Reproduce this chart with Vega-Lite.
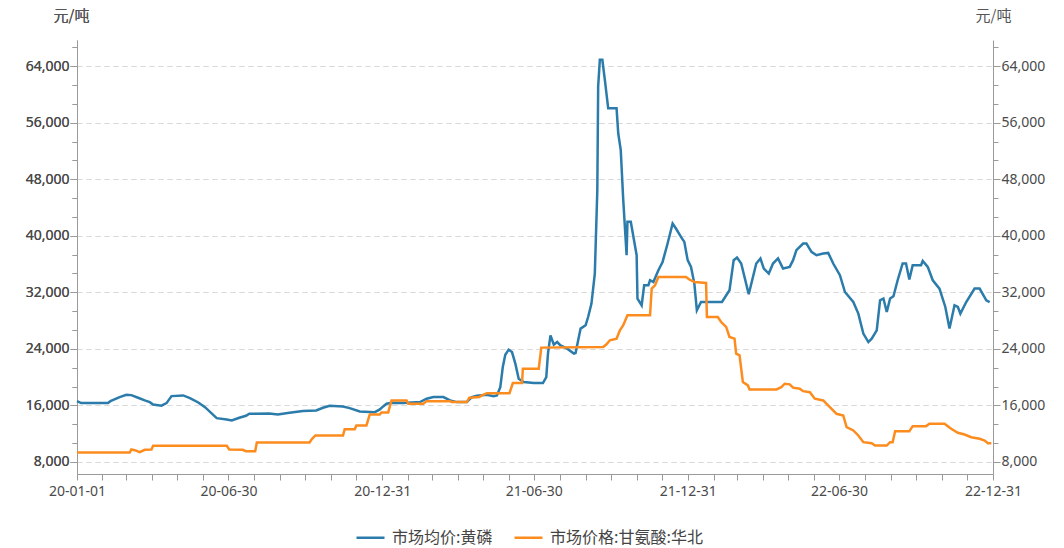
{
  "$schema": "https://vega.github.io/schema/vega-lite/v6.json",
  "width": 916,
  "height": 434,
  "autosize": {"type": "none"},
  "padding": {"left": 77, "top": 40, "right": 71, "bottom": 74},
  "background": "#ffffff",
  "datasets": {
    "blue": [
      {"date": "2020-01-01T00:00", "price": 16600},
      {"date": "2020-01-06T00:00", "price": 16330},
      {"date": "2020-02-07T00:00", "price": 16330},
      {"date": "2020-02-10T00:00", "price": 16600},
      {"date": "2020-02-21T00:00", "price": 17180},
      {"date": "2020-02-29T00:00", "price": 17500},
      {"date": "2020-03-06T00:00", "price": 17460},
      {"date": "2020-03-14T00:00", "price": 17090},
      {"date": "2020-03-22T00:00", "price": 16710},
      {"date": "2020-03-28T00:00", "price": 16470},
      {"date": "2020-04-01T00:00", "price": 16140},
      {"date": "2020-04-11T00:00", "price": 15960},
      {"date": "2020-04-17T00:00", "price": 16330},
      {"date": "2020-04-23T00:00", "price": 17320},
      {"date": "2020-05-07T00:00", "price": 17420},
      {"date": "2020-05-15T00:00", "price": 17030},
      {"date": "2020-05-25T00:00", "price": 16420},
      {"date": "2020-06-02T00:00", "price": 15760},
      {"date": "2020-06-16T00:00", "price": 14200},
      {"date": "2020-06-28T00:00", "price": 14020},
      {"date": "2020-07-04T00:00", "price": 13870},
      {"date": "2020-07-13T00:00", "price": 14260},
      {"date": "2020-07-21T00:00", "price": 14540},
      {"date": "2020-07-25T00:00", "price": 14820},
      {"date": "2020-08-18T00:00", "price": 14870},
      {"date": "2020-08-28T00:00", "price": 14720},
      {"date": "2020-09-11T00:00", "price": 14970},
      {"date": "2020-09-27T00:00", "price": 15200},
      {"date": "2020-10-13T00:00", "price": 15290},
      {"date": "2020-10-21T00:00", "price": 15670},
      {"date": "2020-10-29T00:00", "price": 15960},
      {"date": "2020-11-14T00:00", "price": 15860},
      {"date": "2020-11-22T00:00", "price": 15620},
      {"date": "2020-12-04T00:00", "price": 15150},
      {"date": "2020-12-22T00:00", "price": 15050},
      {"date": "2020-12-28T00:00", "price": 15430},
      {"date": "2021-01-01T00:00", "price": 15860},
      {"date": "2021-01-05T00:00", "price": 16240},
      {"date": "2021-01-11T00:00", "price": 16380},
      {"date": "2021-01-25T00:00", "price": 16330},
      {"date": "2021-02-14T00:00", "price": 16470},
      {"date": "2021-02-22T00:00", "price": 16950},
      {"date": "2021-03-02T00:00", "price": 17180},
      {"date": "2021-03-14T00:00", "price": 17180},
      {"date": "2021-03-22T00:00", "price": 16710},
      {"date": "2021-03-30T00:00", "price": 16470},
      {"date": "2021-04-11T00:00", "price": 16470},
      {"date": "2021-04-17T00:00", "price": 17180},
      {"date": "2021-04-23T00:00", "price": 17370},
      {"date": "2021-05-05T00:00", "price": 17520},
      {"date": "2021-05-13T00:00", "price": 17320},
      {"date": "2021-05-17T00:00", "price": 17420},
      {"date": "2021-05-21T00:00", "price": 18590},
      {"date": "2021-05-24T00:00", "price": 21430},
      {"date": "2021-05-27T00:00", "price": 23180},
      {"date": "2021-05-31T00:00", "price": 23890},
      {"date": "2021-06-04T00:00", "price": 23550},
      {"date": "2021-06-08T00:00", "price": 21910},
      {"date": "2021-06-12T00:00", "price": 19780},
      {"date": "2021-06-18T00:00", "price": 19300},
      {"date": "2021-06-30T00:00", "price": 19160},
      {"date": "2021-07-11T00:00", "price": 19160},
      {"date": "2021-07-15T00:00", "price": 20010},
      {"date": "2021-07-17T00:00", "price": 23330},
      {"date": "2021-07-20T00:00", "price": 25920},
      {"date": "2021-07-24T00:00", "price": 24600},
      {"date": "2021-07-28T00:00", "price": 24970},
      {"date": "2021-08-01T00:00", "price": 24500},
      {"date": "2021-08-09T00:00", "price": 24030},
      {"date": "2021-08-17T00:00", "price": 23330},
      {"date": "2021-08-19T00:00", "price": 23410},
      {"date": "2021-08-25T00:00", "price": 26870},
      {"date": "2021-08-31T00:00", "price": 27340},
      {"date": "2021-09-03T00:00", "price": 28510},
      {"date": "2021-09-07T00:00", "price": 30410},
      {"date": "2021-09-11T00:00", "price": 34660},
      {"date": "2021-09-14T00:00", "price": 46480},
      {"date": "2021-09-15T00:00", "price": 61110},
      {"date": "2021-09-17T00:00", "price": 64890},
      {"date": "2021-09-20T00:00", "price": 64890},
      {"date": "2021-09-23T00:00", "price": 62050},
      {"date": "2021-09-27T00:00", "price": 58040},
      {"date": "2021-10-07T00:00", "price": 58040},
      {"date": "2021-10-09T00:00", "price": 54500},
      {"date": "2021-10-12T00:00", "price": 52130},
      {"date": "2021-10-15T00:00", "price": 45050},
      {"date": "2021-10-19T00:00", "price": 37250},
      {"date": "2021-10-20T00:00", "price": 41970},
      {"date": "2021-10-24T00:00", "price": 41970},
      {"date": "2021-10-31T00:00", "price": 37250},
      {"date": "2021-11-01T00:00", "price": 31110},
      {"date": "2021-11-06T00:00", "price": 30170},
      {"date": "2021-11-09T00:00", "price": 33000},
      {"date": "2021-11-14T00:00", "price": 33000},
      {"date": "2021-11-16T00:00", "price": 33710},
      {"date": "2021-11-20T00:00", "price": 33470},
      {"date": "2021-11-26T00:00", "price": 35130},
      {"date": "2021-12-01T00:00", "price": 36300},
      {"date": "2021-12-07T00:00", "price": 38910},
      {"date": "2021-12-13T00:00", "price": 41740},
      {"date": "2021-12-17T00:00", "price": 41030},
      {"date": "2021-12-23T00:00", "price": 39850},
      {"date": "2021-12-27T00:00", "price": 39140},
      {"date": "2021-12-31T00:00", "price": 36550},
      {"date": "2022-01-04T00:00", "price": 35600},
      {"date": "2022-01-08T00:00", "price": 33240},
      {"date": "2022-01-11T00:00", "price": 29460},
      {"date": "2022-01-16T00:00", "price": 30630},
      {"date": "2022-02-10T00:00", "price": 30630},
      {"date": "2022-02-19T00:00", "price": 32290},
      {"date": "2022-02-24T00:00", "price": 36550},
      {"date": "2022-02-28T00:00", "price": 36930},
      {"date": "2022-03-05T00:00", "price": 36080},
      {"date": "2022-03-14T00:00", "price": 31730},
      {"date": "2022-03-23T00:00", "price": 36080},
      {"date": "2022-03-28T00:00", "price": 36790},
      {"date": "2022-04-01T00:00", "price": 35370},
      {"date": "2022-04-07T00:00", "price": 34660},
      {"date": "2022-04-12T00:00", "price": 36080},
      {"date": "2022-04-18T00:00", "price": 36790},
      {"date": "2022-04-24T00:00", "price": 35370},
      {"date": "2022-05-02T00:00", "price": 35600},
      {"date": "2022-05-06T00:00", "price": 36550},
      {"date": "2022-05-10T00:00", "price": 37960},
      {"date": "2022-05-18T00:00", "price": 38910},
      {"date": "2022-05-22T00:00", "price": 38910},
      {"date": "2022-05-28T00:00", "price": 37720},
      {"date": "2022-06-03T00:00", "price": 37250},
      {"date": "2022-06-11T00:00", "price": 37490},
      {"date": "2022-06-17T00:00", "price": 37580},
      {"date": "2022-06-23T00:00", "price": 36080},
      {"date": "2022-07-01T00:00", "price": 34420},
      {"date": "2022-07-07T00:00", "price": 32050},
      {"date": "2022-07-17T00:00", "price": 30630},
      {"date": "2022-07-23T00:00", "price": 28990},
      {"date": "2022-07-29T00:00", "price": 26160},
      {"date": "2022-08-04T00:00", "price": 24970},
      {"date": "2022-08-08T00:00", "price": 25450},
      {"date": "2022-08-14T00:00", "price": 26630},
      {"date": "2022-08-18T00:00", "price": 30880},
      {"date": "2022-08-22T00:00", "price": 31120},
      {"date": "2022-08-26T00:00", "price": 29220},
      {"date": "2022-08-30T00:00", "price": 31120},
      {"date": "2022-09-03T00:00", "price": 31450},
      {"date": "2022-09-08T00:00", "price": 33710},
      {"date": "2022-09-14T00:00", "price": 36080},
      {"date": "2022-09-18T00:00", "price": 36080},
      {"date": "2022-09-22T00:00", "price": 33810},
      {"date": "2022-09-26T00:00", "price": 35840},
      {"date": "2022-10-06T00:00", "price": 35840},
      {"date": "2022-10-08T00:00", "price": 36440},
      {"date": "2022-10-14T00:00", "price": 35600},
      {"date": "2022-10-20T00:00", "price": 33710},
      {"date": "2022-10-28T00:00", "price": 32530},
      {"date": "2022-11-04T00:00", "price": 29930},
      {"date": "2022-11-09T00:00", "price": 26870},
      {"date": "2022-11-15T00:00", "price": 30170},
      {"date": "2022-11-19T00:00", "price": 29930},
      {"date": "2022-11-22T00:00", "price": 28990},
      {"date": "2022-11-29T00:00", "price": 30630},
      {"date": "2022-12-09T00:00", "price": 32530},
      {"date": "2022-12-15T00:00", "price": 32530},
      {"date": "2022-12-23T00:00", "price": 30880},
      {"date": "2022-12-27T00:00", "price": 30630}
    ],
    "orange": [
      {"date": "2020-01-01T00:00", "price": 9340},
      {"date": "2020-03-04T00:00", "price": 9340},
      {"date": "2020-03-06T00:00", "price": 9770},
      {"date": "2020-03-10T00:00", "price": 9670},
      {"date": "2020-03-16T00:00", "price": 9390},
      {"date": "2020-03-22T00:00", "price": 9720},
      {"date": "2020-03-30T00:00", "price": 9770},
      {"date": "2020-04-01T00:00", "price": 10290},
      {"date": "2020-06-28T00:00", "price": 10290},
      {"date": "2020-07-01T00:00", "price": 9770},
      {"date": "2020-07-17T00:00", "price": 9720},
      {"date": "2020-07-21T00:00", "price": 9530},
      {"date": "2020-08-01T00:00", "price": 9530},
      {"date": "2020-08-03T00:00", "price": 10760},
      {"date": "2020-10-05T00:00", "price": 10760},
      {"date": "2020-10-08T00:00", "price": 11280},
      {"date": "2020-10-12T00:00", "price": 11750},
      {"date": "2020-11-14T00:00", "price": 11750},
      {"date": "2020-11-16T00:00", "price": 12640},
      {"date": "2020-11-28T00:00", "price": 12640},
      {"date": "2020-11-30T00:00", "price": 13170},
      {"date": "2020-12-12T00:00", "price": 13170},
      {"date": "2020-12-16T00:00", "price": 14730},
      {"date": "2020-12-28T00:00", "price": 14730},
      {"date": "2020-12-30T00:00", "price": 15010},
      {"date": "2021-01-07T00:00", "price": 15010},
      {"date": "2021-01-11T00:00", "price": 16710},
      {"date": "2021-01-29T00:00", "price": 16710},
      {"date": "2021-01-31T00:00", "price": 16240},
      {"date": "2021-02-18T00:00", "price": 16240},
      {"date": "2021-02-22T00:00", "price": 16610},
      {"date": "2021-03-22T00:00", "price": 16610},
      {"date": "2021-03-24T00:00", "price": 16470},
      {"date": "2021-04-11T00:00", "price": 16470},
      {"date": "2021-04-14T00:00", "price": 17090},
      {"date": "2021-04-26T00:00", "price": 17180},
      {"date": "2021-04-28T00:00", "price": 17370},
      {"date": "2021-05-05T00:00", "price": 17740},
      {"date": "2021-06-01T00:00", "price": 17740},
      {"date": "2021-06-05T00:00", "price": 19160},
      {"date": "2021-06-16T00:00", "price": 19160},
      {"date": "2021-06-17T00:00", "price": 21200},
      {"date": "2021-07-06T00:00", "price": 21200},
      {"date": "2021-07-09T00:00", "price": 24180},
      {"date": "2021-09-21T00:00", "price": 24270},
      {"date": "2021-09-25T00:00", "price": 24650},
      {"date": "2021-09-29T00:00", "price": 25220},
      {"date": "2021-10-07T00:00", "price": 25450},
      {"date": "2021-10-11T00:00", "price": 26630},
      {"date": "2021-10-15T00:00", "price": 27340},
      {"date": "2021-10-20T00:00", "price": 28760},
      {"date": "2021-11-16T00:00", "price": 28760},
      {"date": "2021-11-18T00:00", "price": 32530},
      {"date": "2021-11-22T00:00", "price": 33000},
      {"date": "2021-11-26T00:00", "price": 34180},
      {"date": "2021-12-29T00:00", "price": 34180},
      {"date": "2022-01-02T00:00", "price": 33810},
      {"date": "2022-01-08T00:00", "price": 33470},
      {"date": "2022-01-22T00:00", "price": 33330},
      {"date": "2022-01-23T00:00", "price": 28510},
      {"date": "2022-02-05T00:00", "price": 28510},
      {"date": "2022-02-09T00:00", "price": 27800},
      {"date": "2022-02-15T00:00", "price": 27100},
      {"date": "2022-02-19T00:00", "price": 25690},
      {"date": "2022-02-25T00:00", "price": 25450},
      {"date": "2022-02-27T00:00", "price": 23330},
      {"date": "2022-03-03T00:00", "price": 23090},
      {"date": "2022-03-07T00:00", "price": 19300},
      {"date": "2022-03-13T00:00", "price": 18830},
      {"date": "2022-03-15T00:00", "price": 18270},
      {"date": "2022-04-16T00:00", "price": 18270},
      {"date": "2022-04-22T00:00", "price": 18590},
      {"date": "2022-04-26T00:00", "price": 19070},
      {"date": "2022-05-02T00:00", "price": 18980},
      {"date": "2022-05-06T00:00", "price": 18510},
      {"date": "2022-05-14T00:00", "price": 18360},
      {"date": "2022-05-18T00:00", "price": 18020},
      {"date": "2022-05-26T00:00", "price": 17880},
      {"date": "2022-06-01T00:00", "price": 16950},
      {"date": "2022-06-11T00:00", "price": 16710},
      {"date": "2022-06-19T00:00", "price": 15760},
      {"date": "2022-06-27T00:00", "price": 14820},
      {"date": "2022-07-05T00:00", "price": 14580},
      {"date": "2022-07-09T00:00", "price": 12930},
      {"date": "2022-07-17T00:00", "price": 12460},
      {"date": "2022-07-23T00:00", "price": 11750},
      {"date": "2022-07-29T00:00", "price": 10800},
      {"date": "2022-08-08T00:00", "price": 10660},
      {"date": "2022-08-12T00:00", "price": 10330},
      {"date": "2022-08-26T00:00", "price": 10330},
      {"date": "2022-08-30T00:00", "price": 10800},
      {"date": "2022-09-02T00:00", "price": 10800},
      {"date": "2022-09-05T00:00", "price": 12360},
      {"date": "2022-09-22T00:00", "price": 12360},
      {"date": "2022-09-26T00:00", "price": 13070},
      {"date": "2022-10-12T00:00", "price": 13070},
      {"date": "2022-10-16T00:00", "price": 13400},
      {"date": "2022-11-03T00:00", "price": 13400},
      {"date": "2022-11-11T00:00", "price": 12690},
      {"date": "2022-11-19T00:00", "price": 12130},
      {"date": "2022-11-27T00:00", "price": 11890},
      {"date": "2022-12-05T00:00", "price": 11510},
      {"date": "2022-12-15T00:00", "price": 11280},
      {"date": "2022-12-21T00:00", "price": 11040},
      {"date": "2022-12-25T00:00", "price": 10660},
      {"date": "2022-12-29T00:00", "price": 10660}
    ]
  },
  "layer": [
    {
      "data": {"name": "blue"},
      "mark": {"type": "line", "strokeWidth": 2.5, "opacity": 0},
      "encoding": {
        "x": {"field": "date", "type": "temporal"},
        "y": {
          "field": "price", "type": "quantitative",
          "axis": {
            "orient": "right",
            "values": [8000, 10666.667, 13333.333, 16000, 18666.667, 21333.333, 24000, 26666.667, 29333.333, 32000, 34666.667, 37333.333, 40000, 42666.667, 45333.333, 48000, 50666.667, 53333.333, 56000, 58666.667, 61333.333, 64000, 66666.667],
            "labelExpr": "abs(datum.value % 8000) < 1 ? format(datum.value, ',') : ''",
            "grid": false,
            "tickSize": {"condition": {"test": "abs(datum.value % 8000) < 1", "value": 7}, "value": 5},
            "labelPadding": 1,
            "title": "元/吨",
            "titleAngle": 0,
            "titleAlign": "center",
            "titleBaseline": "middle",
            "titleX": 0,
            "titleY": -25
          }
        }
      }
    },
    {
      "data": {"name": "blue"},
      "mark": {"type": "line", "strokeWidth": 2.5},
      "encoding": {
        "x": {"field": "date", "type": "temporal"},
        "y": {"field": "price", "type": "quantitative"},
        "color": {"datum": "市场均价:黄磷", "type": "nominal"}
      }
    },
    {
      "data": {"name": "orange"},
      "mark": {"type": "line", "strokeWidth": 2.5},
      "encoding": {
        "x": {"field": "date", "type": "temporal"},
        "y": {"field": "price", "type": "quantitative"},
        "color": {"datum": "市场价格:甘氨酸:华北", "type": "nominal"}
      }
    }
  ],
  "encoding": {
    "x": {
      "field": "date", "type": "temporal",
      "scale": {"domain": [{"year": 2020, "month": 1, "date": 1}, {"year": 2022, "month": 12, "date": 31}], "nice": false},
      "axis": {
        "title": null,
        "grid": false,
        "values": [
          {"year": 2020, "month": 1, "date": 1}, {"year": 2020, "month": 1, "date": 31}, {"year": 2020, "month": 2, "date": 29}, {"year": 2020, "month": 3, "date": 31}, {"year": 2020, "month": 4, "date": 30}, {"year": 2020, "month": 5, "date": 31}, {"year": 2020, "month": 6, "date": 30}, {"year": 2020, "month": 7, "date": 31}, {"year": 2020, "month": 8, "date": 31}, {"year": 2020, "month": 9, "date": 30}, {"year": 2020, "month": 10, "date": 31}, {"year": 2020, "month": 11, "date": 30}, {"year": 2020, "month": 12, "date": 31},
          {"year": 2021, "month": 1, "date": 31}, {"year": 2021, "month": 2, "date": 28}, {"year": 2021, "month": 3, "date": 31}, {"year": 2021, "month": 4, "date": 30}, {"year": 2021, "month": 5, "date": 31}, {"year": 2021, "month": 6, "date": 30}, {"year": 2021, "month": 7, "date": 31}, {"year": 2021, "month": 8, "date": 31}, {"year": 2021, "month": 9, "date": 30}, {"year": 2021, "month": 10, "date": 31}, {"year": 2021, "month": 11, "date": 30}, {"year": 2021, "month": 12, "date": 31},
          {"year": 2022, "month": 1, "date": 31}, {"year": 2022, "month": 2, "date": 28}, {"year": 2022, "month": 3, "date": 31}, {"year": 2022, "month": 4, "date": 30}, {"year": 2022, "month": 5, "date": 31}, {"year": 2022, "month": 6, "date": 30}, {"year": 2022, "month": 7, "date": 31}, {"year": 2022, "month": 8, "date": 31}, {"year": 2022, "month": 9, "date": 30}, {"year": 2022, "month": 10, "date": 31}, {"year": 2022, "month": 11, "date": 30}, {"year": 2022, "month": 12, "date": 31}
        ],
        "labelExpr": "((month(datum.value) == 5 && date(datum.value) == 30) || (month(datum.value) == 11 && date(datum.value) == 31) || (month(datum.value) == 0 && date(datum.value) == 1)) ? timeFormat(datum.value, '%y-%m-%d') : ''",
        "labelOverlap": false,
        "labelFlush": false,
        "tickSize": 6,
        "labelPadding": 4
      }
    },
    "y": {
      "field": "price", "type": "quantitative",
      "scale": {"domain": [6300, 67700], "nice": false, "zero": false},
      "axis": {
        "orient": "left",
        "values": [8000, 10666.667, 13333.333, 16000, 18666.667, 21333.333, 24000, 26666.667, 29333.333, 32000, 34666.667, 37333.333, 40000, 42666.667, 45333.333, 48000, 50666.667, 53333.333, 56000, 58666.667, 61333.333, 64000, 66666.667],
        "labelExpr": "abs(datum.value % 8000) < 1 ? format(datum.value, ',') : ''",
        "grid": true,
        "gridDash": [5, 4],
        "gridColor": "#d9d9d9",
        "gridOpacity": {"condition": {"test": "abs(datum.value % 8000) < 1", "value": 1}, "value": 0},
        "tickSize": {"condition": {"test": "abs(datum.value % 8000) < 1", "value": 7}, "value": 5},
        "labelPadding": 1,
        "title": "元/吨",
        "titleAngle": 0,
        "titleAlign": "center",
        "titleBaseline": "middle",
        "titleX": -6,
        "titleY": -25
      }
    },
    "color": {
      "type": "nominal",
      "scale": {"domain": ["市场均价:黄磷", "市场价格:甘氨酸:华北"], "range": ["#2b7bab", "#fd8c1f"]},
      "legend": {
        "title": null,
        "orient": "none",
        "direction": "horizontal",
        "legendX": 278,
        "legendY": 482,
        "symbolType": "stroke",
        "symbolSize": 784,
        "symbolStrokeWidth": 2.5,
        "columnPadding": 16,
        "labelFontSize": 16,
        "labelLimit": 400,
        "labelFont": "Noto Sans CJK SC",
        "labelColor": "#444444",
        "labelOffset": 6
      }
    }
  },
  "resolve": {"axis": {"y": "independent"}},
  "config": {
    "view": {"stroke": null},
    "axis": {
      "domainColor": "#9a9a9a",
      "tickColor": "#9a9a9a",
      "labelFont": "Noto Sans",
      "labelFontSize": 14,
      "labelColor": "#4a4a4a",
      "titleFont": "Noto Sans CJK SC",
      "titleFontSize": 15,
      "titleFontWeight": "normal",
      "titleColor": "#555555"
    }
  }
}
